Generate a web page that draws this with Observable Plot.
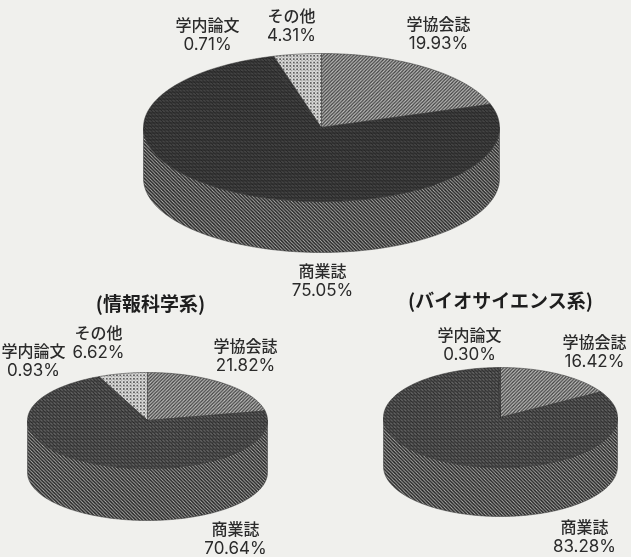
<!DOCTYPE html>
<html lang="ja">
<head>
<meta charset="utf-8">
<script src="https://cdn.jsdelivr.net/npm/d3@7"></script>
<script src="https://cdn.jsdelivr.net/npm/@observablehq/plot@0.6"></script>
<style>
  html, body { margin: 0; padding: 0; background: #f0f0ed; }
  #chart > svg { display: block; filter: blur(0.3px); }
</style>
</head>
<body>
<svg width="0" height="0" style="position:absolute">
  <defs>
    <pattern id="pLight" width="3.4" height="3.4" patternUnits="userSpaceOnUse">
      <rect width="3.4" height="3.4" fill="#dcdcda"/>
      <rect x="0" y="0" width="1.7" height="1.7" fill="#5e5e5e"/>
      <rect x="1.7" y="1.7" width="1.1" height="1.1" fill="#909090"/>
    </pattern>
    <pattern id="pMid" width="3.4" height="3.4" patternUnits="userSpaceOnUse">
      <rect width="3.4" height="3.4" fill="#c2c2c0"/>
      <path d="M-1,1 L1,-1 M0,3.4 L3.4,0 M2.4,4.4 L4.4,2.4" stroke="#3e3e3e" stroke-width="1.25"/>
    </pattern>
    <pattern id="pDark" width="3.4" height="3.4" patternUnits="userSpaceOnUse">
      <rect width="3.4" height="3.4" fill="#333"/>
      <path d="M0,1.7 H3.4" stroke="#525252" stroke-width="0.9"/>
      <path d="M0,0 L3.4,3.4" stroke="#222" stroke-width="0.8"/>
    </pattern>
    <pattern id="pDark2" width="3.4" height="3.4" patternUnits="userSpaceOnUse">
      <rect width="3.4" height="3.4" fill="#4a4a4a"/>
      <path d="M0,1.7 H3.4" stroke="#808080" stroke-width="0.9"/>
      <path d="M0,0 L3.4,3.4" stroke="#262626" stroke-width="1"/>
    </pattern>
    <pattern id="pWall" width="3.4" height="3.4" patternUnits="userSpaceOnUse">
      <rect width="3.4" height="3.4" fill="#b4b4b2"/>
      <path d="M-1,-1 L4.4,4.4 M-1,2.4 L1,4.4 M2.4,-1 L4.4,1" stroke="#222" stroke-width="1.45"/>
    </pattern>
  </defs>
</svg>
<div id="chart"></div>
<script>
const categories = ["学協会誌", "商業誌", "学内論文", "その他"];
const overallShares = [19.93, 75.05, 0.71, 4.31];
const infoShares = [21.82, 70.64, 0.93, 6.62];
const bioShares = [16.42, 83.28, 0.30, 0];
const titles = ["(情報科学系)", "(バイオサイエンス系)"];

// Layout: where each disc sits, and where its labels sit (one [x, y] per category).
const pies = [
  {shares: overallShares, cx: 321, cy: 127, rx: 178, ry: 74, depth: 51, dark: "url(#pDark)",
   labels: [[438, 24], [322, 271], [207, 25], [291, 16]]},
  {shares: infoShares, cx: 147, cy: 420, rx: 120, ry: 48, depth: 52, dark: "url(#pDark2)",
   labels: [[245, 346], [235, 529], [33, 351], [98, 333]]},
  {shares: bioShares, cx: 500, cy: 417, rx: 117, ry: 50, depth: 49, dark: "url(#pDark2)",
   labels: [[594, 342], [584, 527], [469, 335], null]}
];
const titlePos = [[150, 304], [500, 301]];
const lineGap = 19;

const slicePattern = (i, pie) => i === 0 ? "url(#pMid)" : i === 3 ? "url(#pLight)" : pie.dark;
const onEllipse = (p, deg, dy = 0) => {
  const a = deg * Math.PI / 180;
  return {x: p.cx + p.rx * Math.sin(a), y: p.cy - p.ry * Math.cos(a) + dy};
};
const arc = (p, a0, a1, dy = 0) => {
  const n = Math.max(1, Math.ceil(Math.abs(a1 - a0)));
  return d3.range(n + 1).map(k => onEllipse(p, a0 + (a1 - a0) * k / n, dy));
};

const tops = [], walls = [], labels = [];
pies.forEach((pie, pi) => {
  const total = d3.sum(pie.shares);
  let start = 0;
  pie.shares.forEach((v, i) => {
    const end = start + v / total * 360;
    if (v > 0) {
      tops.push({key: `${pi}-${i}`, fill: slicePattern(i, pie),
        pts: [{x: pie.cx, y: pie.cy}, ...arc(pie, start, end), {x: pie.cx, y: pie.cy}]});
      const w0 = Math.max(start, 90), w1 = Math.min(end, 270);
      if (w1 > w0) {
        walls.push({key: `${pi}-${i}`, pts: [...arc(pie, w0, w1), ...arc(pie, w1, w0, pie.depth), onEllipse(pie, w0)]});
      }
      if (pie.labels[i]) {
        labels.push({x: pie.labels[i][0], y: pie.labels[i][1], name: categories[i], pct: v.toFixed(2) + "%"});
      }
    }
    start = end;
  });
});

const flat = rows => rows.flatMap(r => r.pts.map(pt => ({...pt, key: r.key})));
const fills = [...new Set(tops.map(t => t.fill))];
const ink = "#2b2b2b";

const plot = Plot.plot({
  width: 631,
  height: 557,
  margin: 0,
  x: {domain: [0, 631], range: [0, 631], axis: null},
  y: {domain: [0, 557], range: [0, 557], axis: null},
  style: {background: "transparent"},
  marks: [
    Plot.line(flat(walls), {x: "x", y: "y", z: "key", fill: "url(#pWall)", stroke: "#333", strokeWidth: 0.5}),
    ...fills.map(f => Plot.line(flat(tops.filter(t => t.fill === f)), {
      x: "x", y: "y", z: "key", fill: f, stroke: "#2a2a2a", strokeWidth: 0.5
    })),
    Plot.text(labels, {x: "x", y: "y", text: "name", fill: ink, fontSize: 16, fontFamily: "'Noto Sans CJK JP'", fontWeight: 500}),
    Plot.text(labels, {x: "x", y: d => d.y + lineGap, text: "pct", fill: ink, fontSize: 17, fontFamily: "Inter"}),
    Plot.text(titles, {x: (d, i) => titlePos[i][0], y: (d, i) => titlePos[i][1], text: d => d, fill: "#1e1e1e", fontSize: 19, fontFamily: "'Noto Sans CJK JP'", fontWeight: 700})
  ]
});
document.getElementById("chart").appendChild(plot);
</script>
</body>
</html>
